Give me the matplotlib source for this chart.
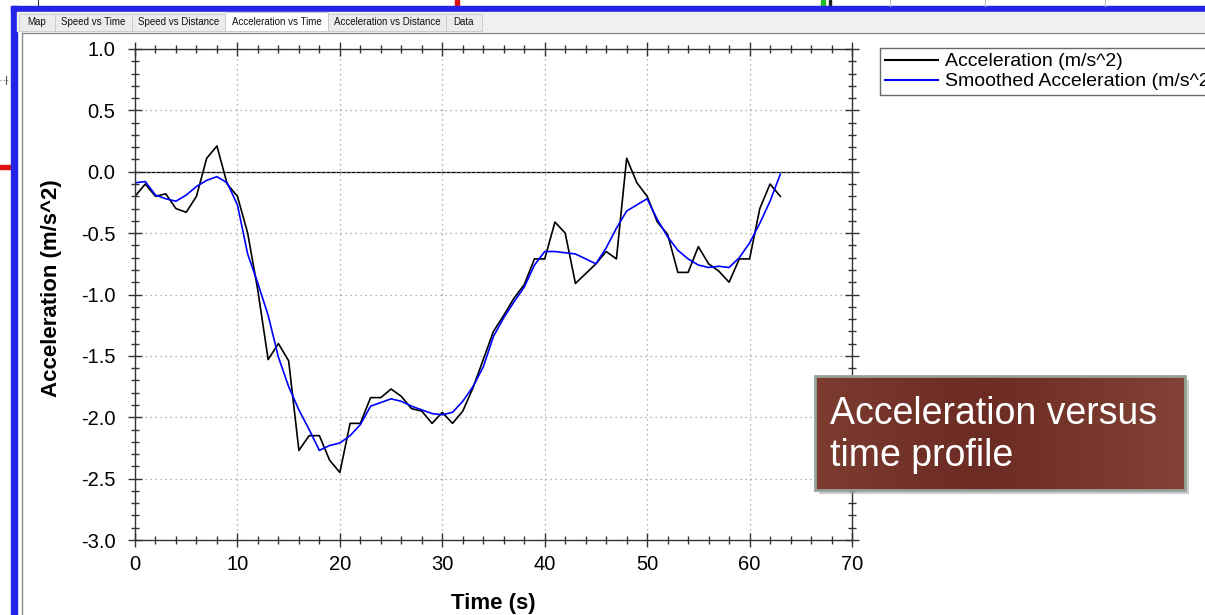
import numpy as np
import matplotlib.pyplot as plt
from matplotlib.patches import Rectangle
from matplotlib.ticker import MultipleLocator

plt.rcParams["font.family"] = ["Liberation Sans", "DejaVu Sans"]

# values, one sample per second
time_s = [0, 1, 2, 3, 4, 5, 6, 7, 8, 9, 10, 11, 12, 13, 14, 15,
          16, 17, 18, 19, 20, 21, 22, 23, 24, 25, 26, 27, 28, 29, 30, 31,
          32, 33, 34, 35, 36, 37, 38, 39, 40, 41, 42, 43, 44, 45, 46, 47,
          48, 49, 50, 51, 52, 53, 54, 55, 56, 57, 58, 59, 60, 61, 62, 63]
accel = [-0.20, -0.10, -0.20, -0.18, -0.30, -0.33, -0.20, 0.11,
         0.21, -0.10, -0.20, -0.50, -0.97, -1.53, -1.40, -1.54,
         -2.27, -2.15, -2.15, -2.35, -2.45, -2.05, -2.05, -1.84,
         -1.84, -1.77, -1.83, -1.93, -1.95, -2.05, -1.96, -2.05,
         -1.95, -1.76, -1.53, -1.30, -1.17, -1.03, -0.92, -0.71,
         -0.71, -0.41, -0.50, -0.91, -0.83, -0.75, -0.65, -0.71,
         0.11, -0.09, -0.20, -0.41, -0.51, -0.82, -0.82, -0.61,
         -0.75, -0.81, -0.90, -0.71, -0.71, -0.30, -0.10, -0.20]
smoothed = [-0.09, -0.08, -0.19, -0.22, -0.24, -0.19, -0.12, -0.07,
            -0.04, -0.09, -0.27, -0.67, -0.91, -1.17, -1.51, -1.75,
            -1.94, -2.10, -2.27, -2.23, -2.21, -2.15, -2.06, -1.91,
            -1.88, -1.85, -1.87, -1.91, -1.94, -1.97, -1.98, -1.96,
            -1.87, -1.75, -1.59, -1.34, -1.19, -1.06, -0.94, -0.76,
            -0.65, -0.65, -0.66, -0.67, -0.71, -0.75, -0.62, -0.46,
            -0.32, -0.27, -0.22, -0.39, -0.53, -0.64, -0.71, -0.76,
            -0.78, -0.77, -0.78, -0.70, -0.58, -0.42, -0.24, -0.02]
x_ticks = [0, 10, 20, 30, 40, 50, 60, 70]
y_ticks = [-3.0, -2.5, -2.0, -1.5, -1.0, -0.5, 0.0, 0.5, 1.0]
tab_names = ["Map", "Speed vs Time", "Speed vs Distance", "Acceleration vs Time",
             "Acceleration vs Distance", "Data"]
note_text = "Acceleration versus\ntime profile"

W, H = 1205, 615


def window_frame(fig):
    # screenshot chrome drawn in pixel coordinates
    bg = fig.add_axes([0, 0, 1, 1], zorder=0)
    bg.set_xlim(0, W)
    bg.set_ylim(H, 0)
    bg.axis("off")

    # bits of the slide behind the window
    bg.add_patch(Rectangle((455, 0), 4, 7, color="#e01010"))
    bg.add_patch(Rectangle((821, 0), 4, 7, color="#22bb22"))
    bg.add_patch(Rectangle((829, 0), 2, 7, color="#222222"))
    for gx in [890, 985, 1105]:
        bg.plot([gx, gx], [0, 6], color="#bbbbbb", lw=0.8)
    bg.plot([38, 38], [0, 5], color="#333333", lw=0.8)
    bg.plot([0, 10], [80, 80], color="#777777", lw=0.8, ls=(0, (1, 2)))
    bg.plot([6, 6], [76, 84], color="#555555", lw=0.8)
    bg.add_patch(Rectangle((0, 165), 11, 4, color="#e01010"))

    # blue window border
    bg.add_patch(Rectangle((11, 6), W - 11, 6, color="#2424e8"))
    bg.add_patch(Rectangle((11, 6), 6, H - 6, color="#2424e8"))

    # tab strip
    bg.add_patch(Rectangle((17, 12), W - 17, 19, color="#f0f0f0"))
    edges = [19, 55, 132, 225, 328, 446, 482]
    for i, name in enumerate(tab_names):
        x0, x1 = edges[i], edges[i + 1]
        sel = name == "Acceleration vs Time"
        top = 12 if sel else 14
        bg.add_patch(Rectangle((x0, top), x1 - x0, 31 - top,
                               facecolor="white" if sel else "#ececec",
                               edgecolor="#c8c8c8", lw=0.6))
        bg.text((x0 + x1) / 2, 22, name, fontsize=7, ha="center",
                va="center", color="#111111")
    # plot panel border
    bg.plot([22, W], [33, 33], color="#8a8a8a", lw=1)
    bg.plot([22, 22], [33, H], color="#8a8a8a", lw=1)


def plot_chart(fig):
    ax = fig.add_axes([135 / W, 1 - 540 / H, 717 / W, 491 / H], zorder=1)
    ax.set_facecolor("white")
    ax.plot(time_s, accel, color="black", lw=1.2, label="Acceleration (m/s^2)")
    ax.plot(time_s, smoothed, color="#0000ff", lw=1.2,
            label="Smoothed Acceleration (m/s^2)")
    ax.axhline(0, color="black", lw=0.9, zorder=1)

    ax.set_xlim(0, 70)
    ax.set_ylim(-3.0, 1.0)
    ax.set_xticks(x_ticks)
    ax.set_yticks(y_ticks)
    ax.set_yticklabels(["%.1f" % v for v in y_ticks])
    ax.xaxis.set_minor_locator(MultipleLocator(2))
    ax.yaxis.set_minor_locator(MultipleLocator(0.1))
    ax.tick_params(which="both", direction="inout", top=True, right=True,
                   colors="#333333", labelcolor="black")
    ax.tick_params(which="major", length=10, width=1, labelsize=14.5)
    ax.tick_params(which="minor", length=6, width=1)
    ax.tick_params(axis="y", pad=9)
    ax.tick_params(axis="x", pad=6)
    for s in ax.spines.values():
        s.set_color("#333333")
        s.set_linewidth(1)
    ax.grid(True, which="major", color="#999999", lw=0.9, ls=(0, (1, 3)))

    ax.set_xlabel("Time (s)", fontsize=16, fontweight="bold")
    ax.set_ylabel("Acceleration (m/s^2)", fontsize=16, fontweight="bold")
    ax.xaxis.set_label_coords(0.5, -0.108)
    ax.yaxis.set_label_coords(-0.1025, 0.512)

    # the window cuts the legend off at its right edge, as in the screenshot
    leg = ax.legend(loc="upper left", bbox_to_anchor=(880 / W, 1 - 48 / H),
                    bbox_transform=fig.transFigure, fontsize=14,
                    frameon=True, fancybox=False, borderaxespad=0,
                    borderpad=0.25, handlelength=2.75, handletextpad=0.35,
                    labelspacing=0.12)
    leg.get_frame().set_edgecolor("#444444")
    leg.get_frame().set_linewidth(1)
    for ln in leg.get_lines():
        ln.set_linewidth(1.5)


def note_box(fig):
    ov = fig.add_axes([0, 0, 1, 1], zorder=3)
    ov.set_xlim(0, W)
    ov.set_ylim(H, 0)
    ov.axis("off")
    ov.patch.set_alpha(0)
    x0, x1, y0, y1 = 815, 1185, 376, 490
    ov.add_patch(Rectangle((x0 + 4, y0 + 4), x1 - x0, y1 - y0,
                           color="#9a9a9a", alpha=0.5, lw=0))
    left = np.array([0x7d, 0x3c, 0x30]) / 255
    mid = np.array([0x6c, 0x2b, 0x23]) / 255
    right = np.array([0x82, 0x42, 0x35]) / 255
    u = np.linspace(0, 1, 200)[:, None]
    grad = np.where(u < 0.45, left + (mid - left) * (u / 0.45),
                    mid + (right - mid) * ((u - 0.45) / 0.55))
    ov.imshow(grad[None, :, :], extent=[x0, x1, y1, y0], aspect="auto",
              interpolation="bilinear", zorder=2)
    ov.add_patch(Rectangle((x0, y0), x1 - x0, y1 - y0, fill=False,
                           edgecolor="#94a496", lw=2, zorder=3))
    ov.text(830, 396, note_text, color="white", fontsize=27, ha="left",
            va="top", linespacing=1.2, zorder=4)
    ov.set_xlim(0, W)
    ov.set_ylim(H, 0)


fig = plt.figure(figsize=(W / 100, H / 100), dpi=100)
fig.patch.set_facecolor("white")
window_frame(fig)
plot_chart(fig)
note_box(fig)
fig.savefig("out.png", dpi=100)
